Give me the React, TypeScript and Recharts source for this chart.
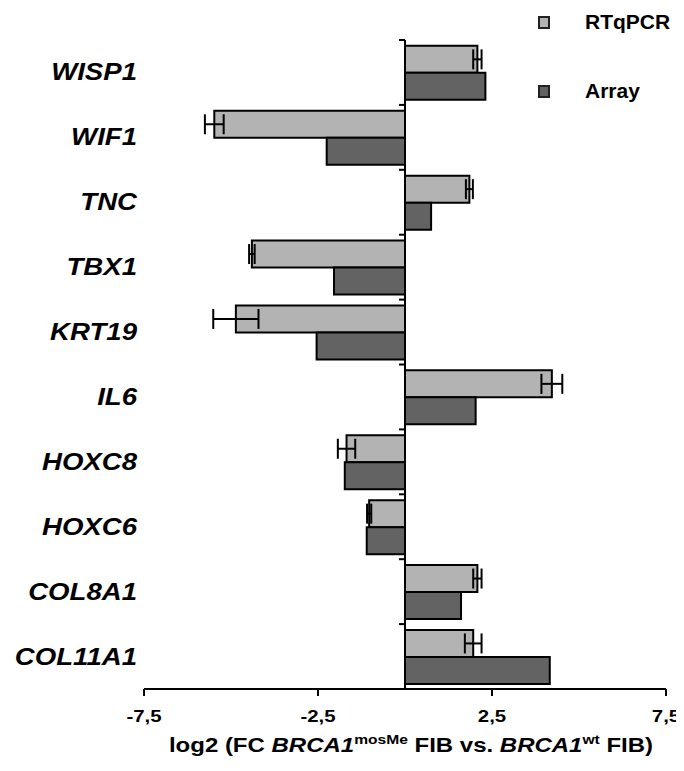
import { Bar, BarChart, ErrorBar, Legend, ReferenceLine, XAxis, YAxis } from "recharts";

const genes = ["WISP1", "WIF1", "TNC", "TBX1", "KRT19", "IL6", "HOXC8", "HOXC6", "COL8A1", "COL11A1"];
const rtqpcr = [2.08, -5.48, 1.85, -4.4, -4.86, 4.22, -1.68, -1.03, 2.08, 1.96];
const rtqpcrErr = [0.12, 0.27, 0.1, 0.08, 0.65, 0.3, 0.25, 0.06, 0.12, 0.24];
const array = [2.31, -2.25, 0.75, -2.04, -2.54, 2.03, -1.73, -1.1, 1.61, 4.16];
const xTicks = [-7.5, -2.5, 2.5, 7.5];

const LIGHT = "#b3b3b3";
const DARK = "#636363";
const FONT = "'Liberation Sans', Arial, sans-serif";
// the original figure's lettering is a bit wider than plain Arial
const SX = 1.2;

const data = genes.map((gene, i) => ({
  gene,
  rtqpcr: rtqpcr[i],
  err: rtqpcrErr[i],
  array: array[i],
}));

const legendItems = [
  { name: "RTqPCR", fill: LIGHT },
  { name: "Array", fill: DARK },
];

function LegendBox() {
  return (
    <div style={{ position: "relative", width: 146, height: 100 }}>
      {legendItems.map((it, i) => (
        <div
          key={it.name}
          style={{ position: "absolute", top: i * 69, left: 0, height: 20, display: "flex", alignItems: "center" }}
        >
          <span
            style={{ display: "inline-block", width: 8, height: 9, border: "2px solid #222", background: it.fill }}
          />
          <span style={{ marginLeft: 35, font: `bold 21px ${FONT}`, color: "#000", whiteSpace: "nowrap" }}>
            {it.name}
          </span>
        </div>
      ))}
    </div>
  );
}

function GeneTick({ x, y, payload }: any) {
  return (
    <text
      transform={`translate(${x},${y}) scale(${SX},1)`}
      dy={8}
      textAnchor="end"
      fontFamily={FONT}
      fontSize={23}
      fontWeight="bold"
      fontStyle="italic"
      fill="#000"
    >
      {payload.value}
    </text>
  );
}

function ValueTick({ x, y, payload }: any) {
  return (
    <text
      transform={`translate(${x},${y}) scale(${SX},1)`}
      dy="0.71em"
      textAnchor="middle"
      fontFamily={FONT}
      fontSize={17}
      fontWeight="bold"
      fill="#000"
    >
      {String(payload.value).replace(".", ",")}
    </text>
  );
}

// zero line acts as the category axis, with small ticks at the band edges
function ZeroAxis(props: any) {
  const { x1, y1, x2, y2 } = props;
  const step = (y2 - y1) / genes.length;
  return (
    <g>
      <line x1={x1} y1={y1} x2={x2} y2={y2} stroke="#000" strokeWidth={2} />
      {[...genes, ""].map((_, k) => (
        <line key={k} x1={x1 - 6} x2={x1} y1={y1 + k * step} y2={y1 + k * step} stroke="#000" strokeWidth={2} />
      ))}
    </g>
  );
}

function AxisTitle({ viewBox }: any) {
  const cx = viewBox.x + viewBox.width / 2 + 6;
  return (
    <text
      transform={`translate(${cx},${viewBox.y + 63}) scale(${SX},1)`}
      textAnchor="middle"
      fontFamily={FONT}
      fontSize={20}
      fontWeight="bold"
      fill="#000"
    >
      log2 (FC <tspan fontStyle="italic">BRCA1</tspan>
      <tspan fontSize={13} dy={-8}>mosMe</tspan>
      <tspan dy={8}> FIB vs. </tspan>
      <tspan fontStyle="italic">BRCA1</tspan>
      <tspan fontSize={13} dy={-8}>wt</tspan>
      <tspan dy={8}> FIB)</tspan>
    </text>
  );
}

export default function App() {
  return (
    <BarChart
      width={676}
      height={755}
      data={data}
      layout="vertical"
      margin={{ top: 32, right: 18, bottom: 0, left: 0 }}
      barCategoryGap="9%"
      barGap={0}
      style={{ overflow: "visible" }}
    >
      <XAxis
        type="number"
        domain={[-7.5, 7.5]}
        ticks={xTicks}
        interval={0}
        allowDataOverflow
        height={74}
        axisLine={{ stroke: "#000", strokeWidth: 2 }}
        tickLine={{ stroke: "#000", strokeWidth: 2 }}
        tickSize={7}
        tickMargin={14}
        tick={<ValueTick />}
        label={<AxisTitle />}
      />
      <YAxis
        type="category"
        dataKey="gene"
        width={136}
        axisLine={false}
        tickLine={false}
        tickSize={0}
        tickMargin={7}
        interval={0}
        tick={<GeneTick />}
      />
      <Legend
        layout="vertical"
        align="center"
        verticalAlign="middle"
        content={<LegendBox />}
        wrapperStyle={{ top: 4, left: 530, width: 146 }}
      />
      <Bar dataKey="rtqpcr" name="RTqPCR" fill={LIGHT} stroke="#000" strokeWidth={2} isAnimationActive={false}>
        <ErrorBar dataKey="err" direction="x" width={10} stroke="#000" strokeWidth={2} isAnimationActive={false} />
      </Bar>
      <Bar dataKey="array" name="Array" fill={DARK} stroke="#000" strokeWidth={2} isAnimationActive={false} />
      <ReferenceLine x={0} shape={ZeroAxis} />
    </BarChart>
  );
}
